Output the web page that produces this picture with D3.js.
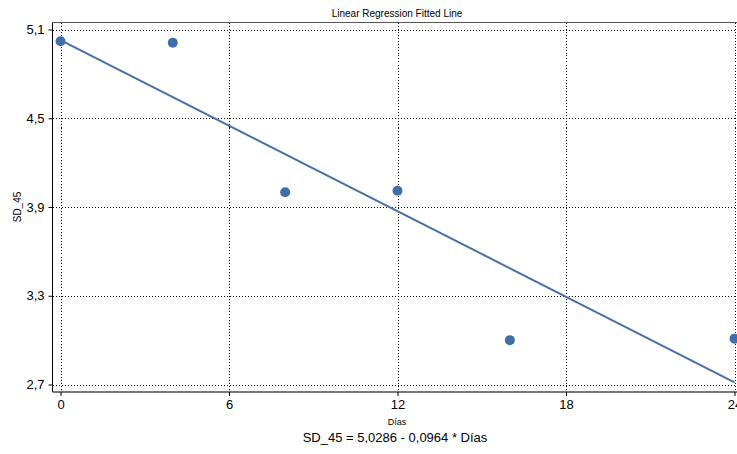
<!DOCTYPE html>
<html>
<head>
<meta charset="utf-8">
<script src="https://cdn.jsdelivr.net/npm/d3@7"></script>
<style>
  body { margin: 0; background: #fff; }
  svg { font-family: "Liberation Sans", Arial, sans-serif; }
</style>
</head>
<body>
<div id="chart"></div>
<script>
// data
const dias = [0, 4, 8, 12, 16, 24];
const sd45 = [5.02, 5.01, 4.00, 4.01, 3.00, 3.01];
const xTicks = [0, 6, 12, 18, 24];
const yTicks = [2.7, 3.3, 3.9, 4.5, 5.1];
const intercept = 5.0286;
const slope = -0.0964;

const width = 737, height = 454;
const fmt = d => String(d).replace(".", ",");

const svg = d3.select("#chart").append("svg")
    .attr("width", width)
    .attr("height", height);

const x = d3.scaleLinear().domain([0, 24]).range([60.5, 734.5]);
const y = d3.scaleLinear().domain([2.7, 5.1]).range([384.5, 29.5]);

// frame box
const frame = { left: 52.5, top: 22.5, right: 745, bottom: 392 };

// grid (dotted)
const grid = svg.append("g").attr("shape-rendering", "crispEdges");
grid.selectAll(".gx").data(xTicks).join("line")
    .attr("x1", d => Math.round(x(d)) + 0.5).attr("x2", d => Math.round(x(d)) + 0.5)
    .attr("y1", frame.top).attr("y2", frame.bottom)
    .style("stroke", "#000").style("stroke-width", 1)
    .style("stroke-dasharray", "1,2");
grid.selectAll(".gy").data(yTicks).join("line")
    .attr("x1", frame.left).attr("x2", frame.right)
    .attr("y1", d => Math.round(y(d)) + 0.5).attr("y2", d => Math.round(y(d)) + 0.5)
    .style("stroke", "#000").style("stroke-width", 1)
    .style("stroke-dasharray", "1,2");

svg.append("line")
    .attr("x1", frame.left).attr("x2", frame.right)
    .attr("y1", frame.top).attr("y2", frame.top)
    .style("stroke", "#555").style("stroke-width", 1);
svg.append("line")
    .attr("x1", frame.left).attr("x2", frame.left)
    .attr("y1", frame.top).attr("y2", frame.bottom)
    .style("stroke", "#000").style("stroke-width", 1);
svg.append("line")
    .attr("x1", frame.left).attr("x2", frame.right)
    .attr("y1", frame.bottom).attr("y2", frame.bottom)
    .style("stroke", "#777").style("stroke-width", 2);

// axes
const yAxis = d3.axisLeft(y).tickValues(yTicks).tickFormat(fmt).tickSize(4).tickPadding(4);
const gy = svg.append("g").attr("transform", `translate(${frame.left},0)`).call(yAxis);
gy.select(".domain").remove();
gy.selectAll("text").style("font-size", "13px").style("fill", "#000");

const xAxis = d3.axisBottom(x).tickValues(xTicks).tickFormat(fmt).tickSize(4).tickPadding(4);
const gx = svg.append("g").attr("transform", `translate(0,${frame.bottom})`).call(xAxis);
gx.select(".domain").remove();
gx.selectAll("text").style("font-size", "13px").style("fill", "#000");

// fitted line
const line = d3.line().x(d => x(d)).y(d => y(intercept + slope * d));
svg.append("path")
    .datum([0, 24])
    .attr("d", line)
    .style("fill", "none")
    .style("stroke", "#4a6fa8")
    .style("stroke-width", 2);

// points
svg.selectAll(".pt").data(dias).join("circle")
    .attr("cx", d => x(d))
    .attr("cy", (d, i) => y(sd45[i]))
    .attr("r", 5)
    .style("fill", "#3f6ea8");

// texts
svg.append("text")
    .attr("x", 397).attr("y", 17)
    .attr("text-anchor", "middle")
    .style("font-size", "10px")
    .text("Linear Regression Fitted Line");

svg.append("text")
    .attr("x", 397).attr("y", 425)
    .attr("text-anchor", "middle")
    .style("font-size", "9px")
    .text("Días");

svg.append("text")
    .attr("x", 395).attr("y", 442)
    .attr("text-anchor", "middle")
    .style("font-size", "13px")
    .text("SD_45 = 5,0286 - 0,0964 * Días");

svg.append("text")
    .attr("transform", "translate(21,207) rotate(-90)")
    .attr("text-anchor", "middle")
    .style("font-size", "10px")
    .text("SD_45");
</script>
</body>
</html>
